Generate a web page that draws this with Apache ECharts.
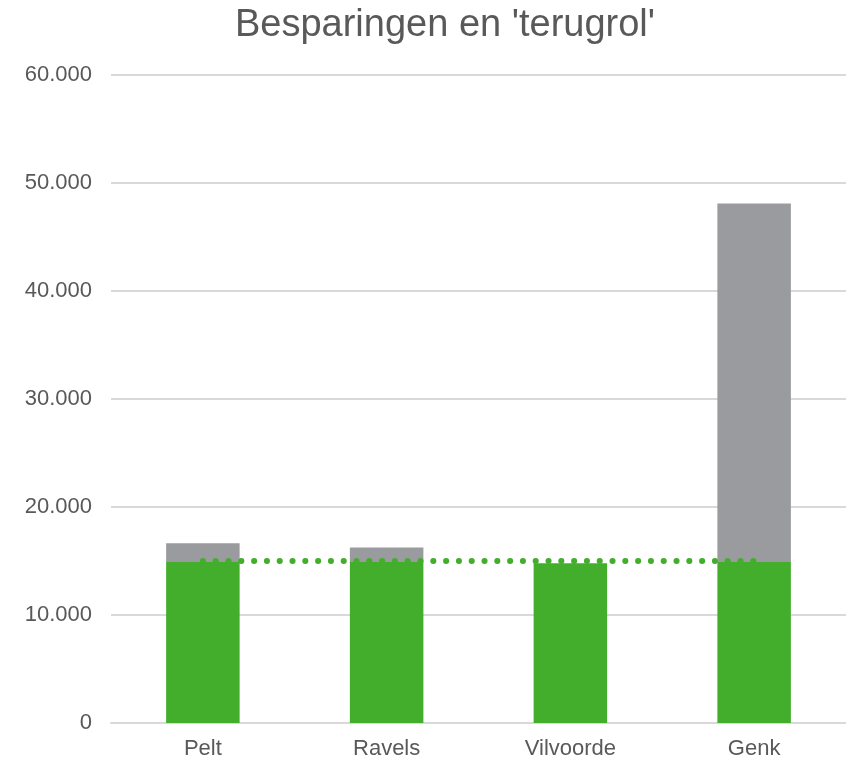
<!DOCTYPE html>
<html><head><meta charset="utf-8">
<script src="https://cdn.jsdelivr.net/npm/echarts@6/dist/echarts.min.js"></script>
<style>html,body{margin:0;padding:0;background:#fff}#c{width:846px;height:764px}</style>
</head><body><div id="c"></div>
<script>
const categories = ['Pelt', 'Ravels', 'Vilvoorde', 'Genk'];
const besparing = [14900, 14900, 14800, 14900];
const terugrol = [1750, 1350, 0, 33200];
const drempel = [15000, 15000, 15000, 15000];
const yTicks = { min: 0, max: 60000, interval: 10000 };

function fmt(v) { return String(v).replace(/\B(?=(\d{3})+(?!\d))/g, '.'); }

const chart = echarts.init(document.getElementById('c'));
chart.setOption({
  animation: false,
  title: {
    text: "Besparingen en 'terugrol'",
    left: 440, top: 2, textAlign: 'center',
    textStyle: { fontFamily: 'Liberation Sans, Arial', fontSize: 38, fontWeight: 'normal', color: '#595959' }
  },
  grid: { left: 111, right: 0, top: 75, bottom: 41 },
  xAxis: {
    type: 'category', data: categories,
    axisLine: { lineStyle: { color: '#d9d9d9', width: 2 } },
    axisTick: { show: false },
    axisLabel: { color: '#595959', fontSize: 22, fontFamily: 'Liberation Sans, Arial', margin: 15 }
  },
  yAxis: {
    type: 'value', min: yTicks.min, max: yTicks.max, interval: yTicks.interval,
    axisLine: { show: false }, axisTick: { show: false },
    splitLine: { lineStyle: { color: '#d9d9d9', width: 2 } },
    axisLabel: { color: '#595959', fontSize: 22, fontFamily: 'Liberation Sans, Arial', margin: 19, formatter: fmt }
  },
  series: [
    { type: 'bar', stack: 'a', data: besparing, barWidth: '40%', itemStyle: { color: '#43ae2c' } },
    { type: 'bar', stack: 'a', data: terugrol, barWidth: '40%', itemStyle: { color: '#9a9b9f' } },
    { type: 'line', data: drempel, symbol: 'none', z: 5,
      lineStyle: { color: '#43ae2c', width: 6, type: [0.1, 12.7], cap: 'round' } }
  ]
});
</script></body></html>
